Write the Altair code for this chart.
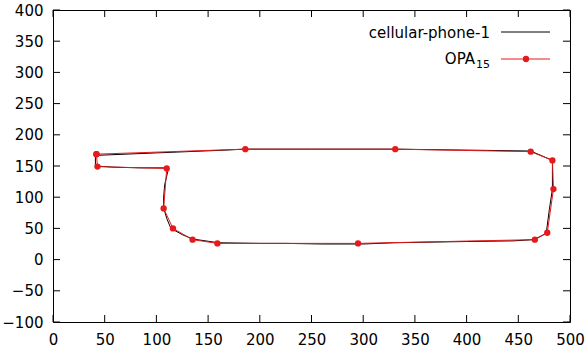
import altair as alt
import pandas as pd

# Reference track (cellular-phone-1)
phone_x = [41, 41, 60, 85, 110, 111, 108, 107, 107, 110, 114, 125, 135, 160, 200, 225, 260,
           300, 330, 400, 445, 465, 477, 480, 483, 483, 462, 420, 330, 250, 186, 160, 100, 41]
phone_y = [167, 150, 148, 147, 147, 141, 120, 100, 83, 66, 50, 40, 33, 27, 26, 26, 25,
           25, 27, 29, 30, 32, 42, 80, 113, 159, 174, 175, 177, 177, 177, 175, 171, 167]

# Simplified polygon (OPA_15)
opa_x = [42, 43, 110, 107, 116, 135, 159, 295, 466, 478, 484, 483, 462, 331, 186, 42]
opa_y = [169, 149, 146, 82, 50, 32, 26, 26, 32, 43, 113, 159, 173, 177, 177, 169]

x_ticks = list(range(0, 501, 50))
y_ticks = list(range(-100, 401, 50))

W, H = 517, 312
FONT = "DejaVu Sans"
FS = 15
RED = "#e41a1c"

phone = pd.DataFrame({"x": phone_x, "y": phone_y, "i": range(len(phone_x))})
opa = pd.DataFrame({"x": opa_x, "y": opa_y, "i": range(len(opa_x))})

xs = alt.Scale(domain=[0, 500], nice=False, zero=False)
ys = alt.Scale(domain=[-100, 400], nice=False, zero=False)

x_axis = alt.Axis(values=x_ticks, title=None, grid=False, domain=False, ticks=False,
                  labelFont=FONT, labelFontSize=FS, labelColor="black", labelPadding=10,
                  labelFlush=False)
y_axis = alt.Axis(values=y_ticks, title=None, grid=False, domain=False, ticks=False,
                  labelFont=FONT, labelFontSize=FS, labelColor="black", labelPadding=10,
                  labelAlign="right", labelFlush=False)


def X(field):
    return alt.X(field, scale=xs, axis=x_axis)


def Y(field):
    return alt.Y(field, scale=ys, axis=y_axis)


phone_line = alt.Chart(phone).mark_line(color="black", strokeWidth=1).encode(
    x=X("x:Q"), y=Y("y:Q"), order="i:Q")

opa_line = alt.Chart(opa).mark_line(color=RED, strokeWidth=1).encode(
    x=X("x:Q"), y=Y("y:Q"), order="i:Q")
opa_pts = alt.Chart(opa).mark_circle(color=RED, size=40, opacity=1).encode(
    x=X("x:Q"), y=Y("y:Q"))

# Inward tick marks on all four sides
xt = pd.DataFrame({"x": x_ticks})
yt = pd.DataFrame({"y": y_ticks})
tick_len = 7
x_bottom = alt.Chart(xt).mark_rule(color="black", strokeWidth=1).encode(
    x=X("x:Q"), y=alt.value(H), y2=alt.value(H - tick_len))
x_top = alt.Chart(xt).mark_rule(color="black", strokeWidth=1).encode(
    x=X("x:Q"), y=alt.value(0), y2=alt.value(tick_len))
y_left = alt.Chart(yt).mark_rule(color="black", strokeWidth=1).encode(
    y=Y("y:Q"), x=alt.value(0), x2=alt.value(tick_len))
y_right = alt.Chart(yt).mark_rule(color="black", strokeWidth=1).encode(
    y=Y("y:Q"), x=alt.value(W), x2=alt.value(W - tick_len))

# Key in the upper right corner
key1 = pd.DataFrame({"label": ["cellular-phone-1"]})
key2 = pd.DataFrame({"label": ["OPA"], "sub": ["15"]})

k1_text = alt.Chart(key1).mark_text(align="right", baseline="middle", font=FONT,
                                     fontSize=FS, color="black").encode(
    text="label:N", x=alt.value(437), y=alt.value(23))
k1_line = alt.Chart(key1).mark_rule(color="black", strokeWidth=1).encode(
    x=alt.value(448), x2=alt.value(497), y=alt.value(22))

k2_text = alt.Chart(key2).mark_text(align="right", baseline="middle", font=FONT,
                                     fontSize=FS, color="black").encode(
    text="label:N", x=alt.value(422), y=alt.value(49))
k2_sub = alt.Chart(key2).mark_text(align="left", baseline="middle", font=FONT,
                                    fontSize=11, color="black").encode(
    text="sub:N", x=alt.value(423), y=alt.value(55))
k2_line = alt.Chart(key2).mark_rule(color=RED, strokeWidth=1).encode(
    x=alt.value(448), x2=alt.value(497), y=alt.value(49))
k2_dot = alt.Chart(key2).mark_circle(color=RED, size=40, opacity=1).encode(
    x=alt.value(473), y=alt.value(49))

chart = alt.layer(
    phone_line, opa_line, opa_pts,
    x_bottom, x_top, y_left, y_right,
    k1_text, k1_line, k2_text, k2_sub, k2_line, k2_dot,
).properties(
    width=W, height=H,
    autosize=alt.AutoSizeParams(type="none"),
    padding={"left": 53, "top": 10, "right": 18, "bottom": 32},
    background="white",
).configure_view(stroke="black", strokeWidth=1)

chart.save("out.html", embed_options={"renderer": "svg", "actions": False})
